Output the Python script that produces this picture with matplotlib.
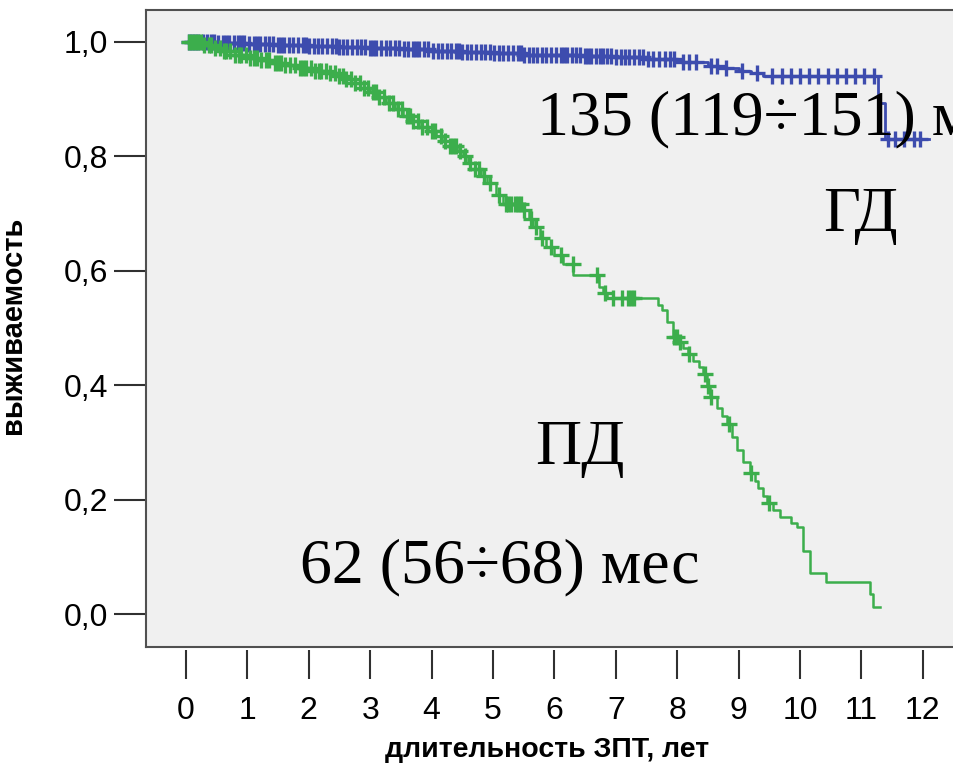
import numpy as np
import matplotlib.pyplot as plt

# ПД (green) Kaplan-Meier steps, time in years
pd_t = [0, 0.3, 0.45, 0.6, 0.8, 0.99, 1.2, 1.37, 1.6, 1.8, 2.1, 2.3, 2.45, 2.6,
        2.75, 2.9, 3.0, 3.12, 3.25, 3.4, 3.54, 3.67, 3.8, 3.95, 4.08, 4.2, 4.3,
        4.41, 4.51, 4.6, 4.7, 4.8, 4.9, 5.05, 5.17, 5.5, 5.58, 5.65, 5.76, 5.87,
        6.0, 6.14, 6.31, 6.72, 6.79, 6.85, 7.69, 7.76, 7.83, 7.93, 8.02, 8.1,
        8.18, 8.26, 8.35, 8.42, 8.48, 8.53, 8.65, 8.73, 8.81, 8.9, 8.97, 9.08,
        9.19, 9.26, 9.32, 9.4, 9.46, 9.56, 9.67, 9.85, 9.95, 10.05, 10.16, 10.43,
        11.14, 11.19, 11.3]
pd_s = [1.0, 0.995, 0.99, 0.985, 0.978, 0.972, 0.968, 0.964, 0.96, 0.955, 0.95,
        0.946, 0.941, 0.935, 0.928, 0.92, 0.912, 0.903, 0.893, 0.882, 0.871,
        0.862, 0.852, 0.844, 0.836, 0.827, 0.818, 0.809, 0.80, 0.789, 0.778,
        0.766, 0.754, 0.733, 0.716, 0.706, 0.69, 0.676, 0.658, 0.641, 0.628,
        0.612, 0.592, 0.571, 0.562, 0.553, 0.541, 0.531, 0.51, 0.484, 0.475,
        0.465, 0.455, 0.443, 0.432, 0.42, 0.398, 0.379, 0.36, 0.346, 0.333,
        0.31, 0.286, 0.265, 0.246, 0.233, 0.22, 0.207, 0.194, 0.182, 0.17, 0.16,
        0.152, 0.11, 0.072, 0.056, 0.035, 0.013, 0.013]
pd_cens = [0.05, 0.1, 0.15, 0.2, 0.25, 0.3, 0.38, 0.4, 0.48, 0.55, 0.62, 0.65,
           0.72, 0.8, 0.86, 0.9, 0.97, 1.05, 1.1, 1.15, 1.22, 1.3, 1.36, 1.45,
           1.5, 1.55, 1.62, 1.7, 1.77, 1.85, 1.9, 1.95, 2.03, 2.1, 2.16, 2.2,
           2.28, 2.35, 2.42, 2.5, 2.55, 2.6, 2.68, 2.75, 2.83, 2.9, 2.97, 3.05,
           3.1, 3.15, 3.22, 3.3, 3.37, 3.45, 3.52, 3.6, 3.65, 3.7, 3.78, 3.85,
           3.92, 4.0, 4.06, 4.15, 4.22, 4.3, 4.35, 4.4, 4.47, 4.55, 4.62, 4.7,
           4.77, 4.85, 4.95, 5.1, 5.22, 5.25, 5.3, 5.36, 5.4, 5.45, 5.5, 5.62,
           5.7, 5.8, 5.95, 6.1, 6.3, 6.7, 6.83, 6.95, 7.1, 7.2, 7.25, 7.3, 7.95,
           8.0, 8.05, 8.2, 8.45, 8.5, 8.55, 8.85, 9.2, 9.5]

# ГД (blue)
gd_t = [0, 0.5, 1.0, 1.5, 2.0, 2.5, 3.0, 3.5, 4.0, 4.5, 5.0, 5.5, 6.0, 6.5, 7.0,
        7.5, 8.0, 8.5, 8.75, 9.0, 9.2, 9.4, 11.27, 11.38, 12.1]
gd_s = [1.0, 0.998, 0.996, 0.994, 0.993, 0.991, 0.99, 0.987, 0.985, 0.983, 0.981,
        0.978, 0.977, 0.976, 0.974, 0.971, 0.965, 0.958, 0.955, 0.95, 0.946, 0.941,
        0.893, 0.831, 0.831]
gd_cens = [0.05, 0.1, 0.15, 0.2, 0.27, 0.35, 0.4, 0.45, 0.52, 0.6, 0.65, 0.7,
           0.78, 0.85, 0.9, 0.95, 1.03, 1.1, 1.15, 1.2, 1.28, 1.35, 1.42, 1.5,
           1.55, 1.6, 1.68, 1.75, 1.82, 1.9, 1.95, 2.0, 2.08, 2.15, 2.22, 2.3,
           2.38, 2.45, 2.5, 2.55, 2.63, 2.7, 2.78, 2.85, 2.92, 3.0, 3.05, 3.1,
           3.18, 3.25, 3.32, 3.4, 3.47, 3.55, 3.62, 3.7, 3.75, 3.8, 3.88, 3.95,
           4.02, 4.1, 4.17, 4.25, 4.32, 4.4, 4.45, 4.5, 4.58, 4.65, 4.72, 4.8,
           4.87, 4.95, 5.02, 5.1, 5.17, 5.25, 5.32, 5.4, 5.45, 5.5, 5.58, 5.65,
           5.72, 5.8, 5.87, 5.95, 6.02, 6.1, 6.15, 6.2, 6.28, 6.35, 6.42, 6.5,
           6.55, 6.6, 6.68, 6.75, 6.8, 6.85, 6.92, 7.0, 7.08, 7.15, 7.22, 7.3,
           7.38, 7.45, 7.52, 7.6, 7.7, 7.8, 7.88, 7.95, 8.1, 8.2, 8.3, 8.55,
           8.65, 8.8, 9.05, 9.3, 9.55, 9.7, 9.85, 10.0, 10.15, 10.3, 10.45, 10.6,
           10.75, 10.9, 11.05, 11.2, 11.43, 11.55, 11.7, 11.85, 11.95]

years = list(range(13))
surv_ticks = [0.0, 0.2, 0.4, 0.6, 0.8, 1.0]
surv_labels = ["0,0", "0,2", "0,4", "0,6", "0,8", "1,0"]

BLUE = "#3d4cae"
GREEN = "#3cae4c"


def censor_y(t, s, c):
    idx = np.searchsorted(t, c, side="right") - 1
    return np.array(s)[idx]


fig = plt.figure(figsize=(9.54, 7.77), dpi=100)
ax = fig.add_axes([146 / 954, 130 / 777, 836 / 954, 637 / 777])
ax.set_facecolor("#f0f0f0")

ax.plot(gd_t, gd_s, drawstyle="steps-post", color=BLUE, lw=2.0)
ax.plot(gd_cens, censor_y(gd_t, gd_s, gd_cens), ls="none", marker="+",
        ms=12, mew=2.4, color=BLUE)
ax.plot(pd_t, pd_s, drawstyle="steps-post", color=GREEN, lw=1.8)
ax.plot(pd_cens, censor_y(pd_t, pd_s, pd_cens), ls="none", marker="+",
        ms=12, mew=2.4, color=GREEN)

ax.set_xlim(-0.651, 12.965)
ax.set_ylim(-0.0576, 1.0558)

for sp in ax.spines.values():
    sp.set_color("#505050")
    sp.set_linewidth(1.5)

ax.set_yticks(surv_ticks)
ax.set_yticklabels(surv_labels, family="Liberation Sans", fontsize=23)
ax.tick_params(axis="y", length=23, width=1.5, color="#303030", pad=4)
ax.set_xticks([])

sec = ax.secondary_xaxis(-0.005)
sec.spines["bottom"].set_visible(False)
sec.set_xticks(years)
sec.set_xticklabels([str(y) for y in years], family="Liberation Sans", fontsize=23)
sec.tick_params(axis="x", length=21, width=1.5, color="#303030", pad=12)

ax.set_ylabel("выживаемость", family="Liberation Sans", fontsize=21,
              fontweight="bold")
ax.yaxis.set_label_coords(-0.142, 0.505)
fig.text(547 / 954, 1 - 750 / 777, "длительность ЗПТ, лет", family="Liberation Sans",
         fontsize=20.5, fontweight="bold", ha="center", va="center")

serif = dict(family="Liberation Serif", fontsize=46, color="black")
ax.text(5.72, 0.839, "135 (119÷151) мес", ha="left", va="baseline", **serif)
ax.text(10.37, 0.670, "ГД", ha="left", va="baseline", **serif)
ax.text(5.68, 0.262, "ПД", ha="left", va="baseline", **serif)
ax.text(1.86, 0.056, "62 (56÷68) мес", ha="left", va="baseline", **serif)

fig.savefig("out.png", dpi=100)
